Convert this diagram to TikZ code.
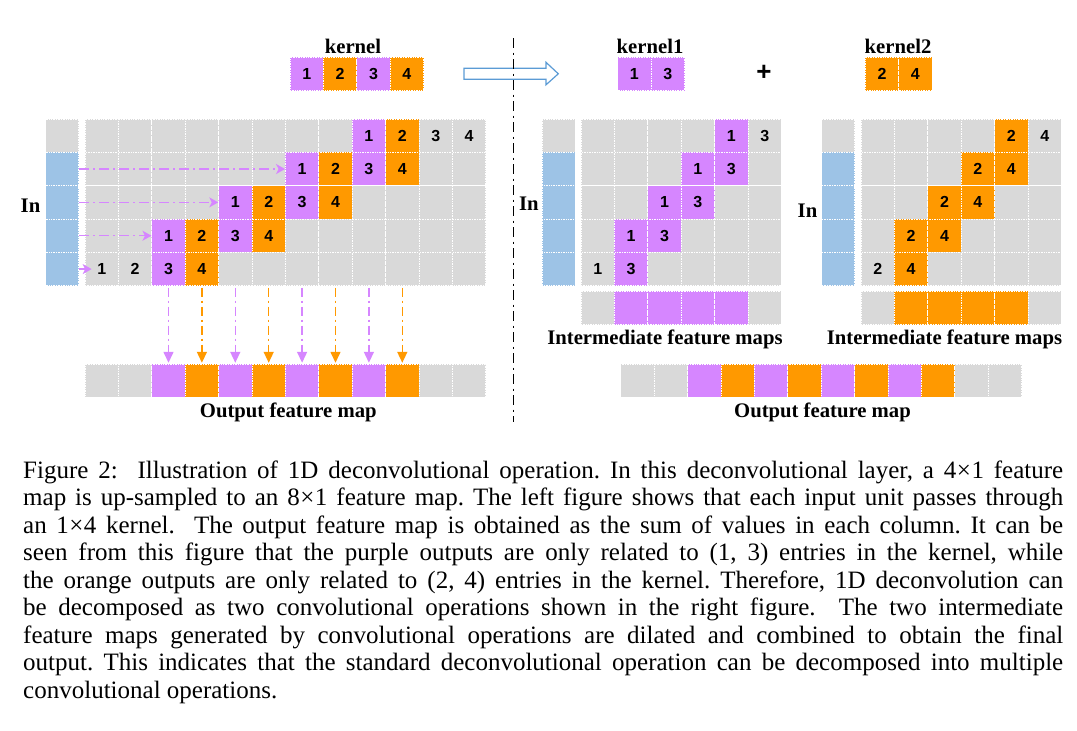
\documentclass[tikz,border=0pt]{standalone}
\usepackage{fontspec}
\setmainfont{Liberation Serif}
\newfontfamily\numfont{Liberation Sans}
\usetikzlibrary{arrows.meta}
\definecolor{cpurple}{RGB}{214,134,255}
\definecolor{corange}{RGB}{255,153,0}
\definecolor{cgray}{RGB}{217,217,217}
\definecolor{cblue}{RGB}{157,195,230}
\definecolor{cline}{RGB}{91,155,213}
\begin{document}
\begin{tikzpicture}[x=1pt,y=-1pt,
  cellbox/.style={rectangle, minimum width=33.4pt, minimum height=33.35pt, inner sep=0pt,
    draw=white, densely dotted, line width=0.7pt, fill=cgray,
    font=\numfont\bfseries\fontsize{16}{16}\selectfont},
  lbl/.style={font=\bfseries\fontsize{20.7}{24}\selectfont, inner sep=0pt, anchor=base},
  harrow/.style={cpurple, line width=1.5pt, dash pattern=on 10pt off 4pt on 2pt off 4pt,
    -{Stealth[length=9pt,width=10pt,inset=2.5pt]}},
  varrow/.style={line width=1.5pt, dash pattern=on 9pt off 4pt on 2pt off 4pt,
    shorten <=1.5pt, shorten >=1pt, -{Triangle[length=11pt,width=10pt]}}
]
\useasboundingbox (0,0) rectangle (1077,731);

% ---------- left grid ----------
\foreach \r in {0,...,4}{
  \foreach \c in {0,...,11}{
    \pgfmathtruncatemacro{\k}{\c+2*\r-7}
    \def\fc{cgray}\def\tx{}
    \ifnum\k>0 \ifnum\k<5 \let\tx\k \fi\fi
    \ifnum\c>1 \ifnum\c<10 \ifnum\k>0 \ifnum\k<5 \ifodd\k \def\fc{cpurple}\else \def\fc{corange}\fi\fi\fi\fi\fi
    \node[cellbox,fill=\fc] (L-\r-\c) at ({85+(\c+0.5)*33.4},{119+(\r+0.5)*33.35}) {\tx};
  }
}

% ---------- right grids ----------
\foreach \g/\xo/\fcol/\off in {A/581/cpurple/1, B/861/corange/2}{
  \foreach \r in {0,...,4}{
    \foreach \c in {0,...,5}{
      \pgfmathtruncatemacro{\j}{\c+\r-4}
      \pgfmathtruncatemacro{\v}{2*\j+\off}
      \def\fc{cgray}\def\tx{}
      \ifnum\j>-1 \ifnum\j<2 \let\tx\v \ifnum\c>0 \ifnum\c<5 \let\fc\fcol \fi\fi\fi\fi
      \node[cellbox,fill=\fc] (\g-\r-\c) at ({\xo+(\c+0.5)*33.4},{119+(\r+0.5)*33.35}) {\tx};
    }
  }
  \foreach \c in {0,...,5}{
    \def\fc{cgray}
    \ifnum\c>0 \ifnum\c<5 \let\fc\fcol\fi\fi
    \node[cellbox,fill=\fc] (\g I-\c) at ({\xo+(\c+0.5)*33.4},308) {};
  }
}

% ---------- input columns ----------
\foreach \g/\xc in {L/62.2, A/558.8, B/838.3}{
  \foreach \r in {0,...,4}{
    \def\fc{cblue}\ifnum\r=0 \def\fc{cgray}\fi
    \node[cellbox,minimum width=33pt,fill=\fc] (\g C-\r) at (\xc,{119+(\r+0.5)*33.35}) {};
  }
}

% ---------- output maps ----------
\foreach \g/\xo in {OL/85, OR/620.7}{
  \foreach \c in {0,...,11}{
    \def\fc{cgray}
    \ifnum\c>1 \ifnum\c<10 \ifodd\c \def\fc{corange}\else \def\fc{cpurple}\fi\fi\fi
    \node[cellbox,fill=\fc] (\g-\c) at ({\xo+(\c+0.5)*33.4},380.8) {};
  }
}

% ---------- kernels ----------
\foreach \i/\fc in {1/cpurple,2/corange,3/cpurple,4/corange}
  \node[cellbox,fill=\fc] (K-\i) at ({290+(\i-0.5)*33.4},74) {\i};
\node[cellbox,fill=cpurple] (KA-1) at (634.4,74) {1};
\node[cellbox,fill=cpurple] (KA-2) at (667.8,74) {3};
\node[cellbox,fill=corange] (KB-1) at (882,74) {2};
\node[cellbox,fill=corange] (KB-2) at (915.4,74) {4};

% ---------- labels ----------
\node[lbl] (lk) at (353,53) {kernel};
\node[lbl] (lk1) at (650,53) {kernel1};
\node[lbl] (lk2) at (898,53) {kernel2};
\node[lbl] (in1) at (30.5,212.7) {In};
\node[lbl] (in2) at (528.8,210) {In};
\node[lbl] (in3) at (807.5,217.3) {In};
\node[lbl] (im1) at (665,344.5) {Intermediate feature maps};
\node[lbl] (im2) at (944.5,344.5) {Intermediate feature maps};
\node[lbl] (out1) at (288.3,417.5) {Output feature map};
\node[lbl] (out2) at (822.5,417) {Output feature map};
\node[font=\numfont\bfseries\fontsize{26}{26}\selectfont, inner sep=0pt] (plus) at (764,73) {+};

% ---------- connectors ----------
\foreach \r/\c in {1/6,2/4,3/2}
  \draw[harrow] (LC-\r.east) -- (L-\r-\c.west);
\draw[harrow, shorten >=-7pt] (LC-4.east) -- (L-4-0.west);
\foreach \c in {2,4,6,8}
  \draw[varrow, cpurple] (L-4-\c.south) -- (OL-\c.north);
\foreach \c in {3,5,7,9}
  \draw[varrow, corange] (L-4-\c.south) -- (OL-\c.north);

% ---------- big arrow and divider ----------
\draw[cline, line width=1.2pt, fill=white, line join=miter]
  (464,68.3) -- (546,68.3) -- (546,62.3) -- (558.3,73.8) -- (546,84.8) -- (546,79.3) -- (464,79.3) -- cycle;
\draw[line width=1.6pt, dash pattern=on 10pt off 4.5pt on 2pt off 4.5pt] (513.5,38) -- (513.5,422);

% ---------- caption ----------
\node[anchor=base west, inner sep=0pt, font=\fontsize{25}{27.5}\selectfont\frenchspacing] (cap) at (23,698) {\vbox{\baselineskip=27.5pt
\hbox to 1040pt{Figure 2:\ \ Illustration of 1D deconvolutional operation. In this deconvolutional layer, a 4\kern0.5pt×\kern0.5pt1 feature}
\hbox to 1040pt{map is up-sampled to an 8\kern0.5pt×\kern0.5pt1 feature map. The left figure shows that each input unit passes through}
\hbox to 1040pt{an 1\kern0.5pt×\kern0.5pt4 kernel.\ \ The output feature map is obtained as the sum of values in each column. It can be}
\hbox to 1040pt{seen from this figure that the purple outputs are only related to (1, 3) entries in the kernel, while}
\hbox to 1040pt{the orange outputs are only related to (2, 4) entries in the kernel. Therefore, 1D deconvolution can}
\hbox to 1040pt{be decomposed as two convolutional operations shown in the right figure.\ \ The two intermediate}
\hbox to 1040pt{feature maps generated by convolutional operations are dilated and combined to obtain the final}
\hbox to 1040pt{output. This indicates that the standard deconvolutional operation can be decomposed into multiple}
\hbox{convolutional operations.}}};
\end{tikzpicture}
\end{document}
